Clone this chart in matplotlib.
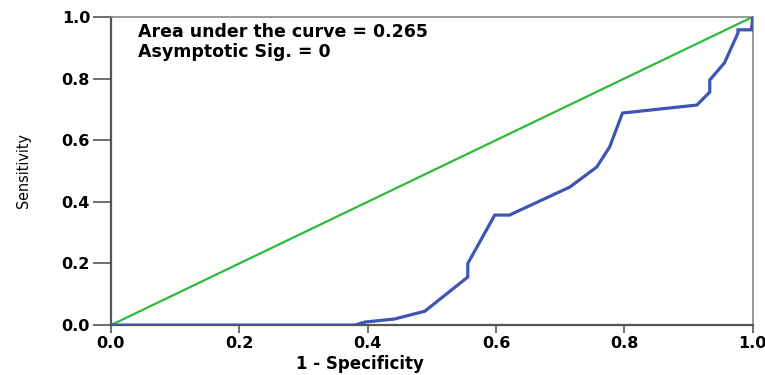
import matplotlib
matplotlib.use("Agg")
import matplotlib.pyplot as plt

# ROC curve
fpr = [0.0, 0.38, 0.396, 0.442, 0.489, 0.556, 0.556, 0.598, 0.621, 0.715,
       0.757, 0.777, 0.797, 0.913, 0.933, 0.933, 0.956, 0.977, 0.977, 0.998, 1.0]
tpr = [0.0, 0.0, 0.01, 0.02, 0.045, 0.156, 0.20, 0.357, 0.357, 0.448,
       0.513, 0.578, 0.688, 0.714, 0.756, 0.795, 0.851, 0.948, 0.958, 0.958, 1.0]
ref_x = [0.0, 1.0]
ref_y = [0.0, 1.0]
ticks = [0.0, 0.2, 0.4, 0.6, 0.8, 1.0]
auc_text = "Area under the curve = 0.265"
sig_text = "Asymptotic Sig. = 0"

plt.rcParams['font.family'] = ['DejaVu Sans']

fig = plt.figure(figsize=(7.65, 3.75), dpi=100)
ax = fig.add_axes([0.145, 0.133, 0.839, 0.822])

ax.plot(ref_x, ref_y, color='#2dbb3a', lw=1.6, zorder=2)
ax.plot(fpr, tpr, color='#3d55b5', lw=2.3, zorder=3, solid_joinstyle='miter')

ax.set_xlim(0, 1)
ax.set_ylim(0, 1)
ax.set_xticks(ticks)
ax.set_yticks(ticks)
ax.set_xticklabels(['%.1f' % t for t in ticks], fontweight='bold', fontsize=11.5)
ax.set_yticklabels(['%.1f' % t for t in ticks], fontweight='bold', fontsize=11.5)
ax.tick_params(direction='out', width=1.2, color='#555555')
ax.tick_params(axis='y', length=13, pad=2)
ax.tick_params(axis='x', length=6, pad=1.5)

for side in ['left', 'bottom']:
    ax.spines[side].set_color('#555555')
    ax.spines[side].set_linewidth(1.6)
for side in ['top', 'right']:
    ax.spines[side].set_color('#888888')
    ax.spines[side].set_linewidth(1.2)

ax.set_xlabel('1 - Specificity', fontweight='bold', fontsize=12, va='center')
ax.xaxis.set_label_coords(0.388, -0.125)
ax.set_ylabel('Sensitivity', fontsize=11.5, fontstretch='condensed')
ax.yaxis.set_label_coords(-0.125, 0.5)

ax.text(0.042, 0.951, auc_text, transform=ax.transAxes, fontweight='bold',
        fontsize=12.5, va='center', ha='left')
ax.text(0.042, 0.886, sig_text, transform=ax.transAxes, fontweight='bold',
        fontsize=12.5, va='center', ha='left')

fig.savefig('out.png', dpi=100)
